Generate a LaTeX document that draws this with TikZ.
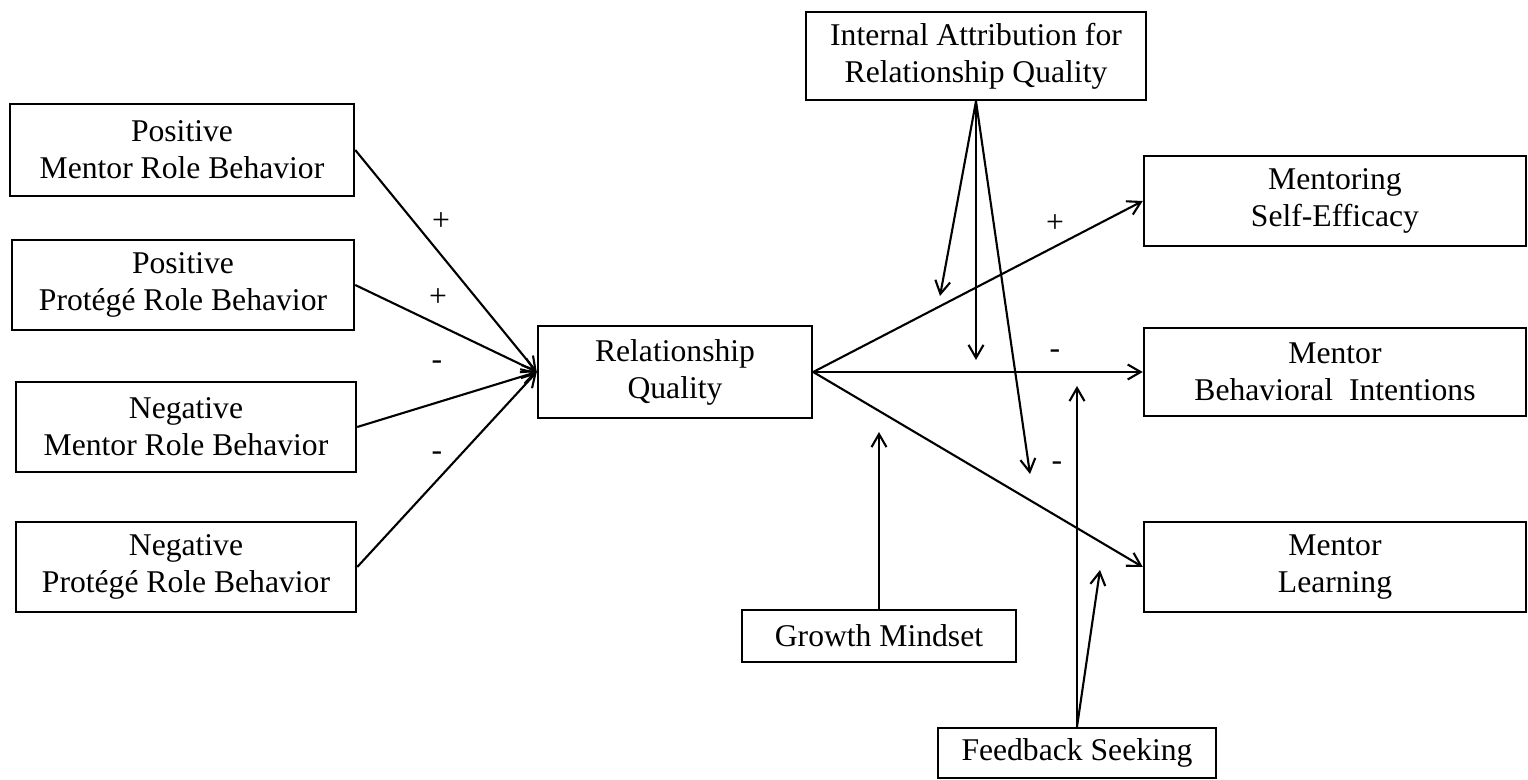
\documentclass[tikz,border=0pt]{standalone}
\usepackage{fontspec}
\setmainfont{Liberation Serif}
\usetikzlibrary{arrows.meta, positioning}

\begin{document}
\begin{tikzpicture}[
    box/.style={rectangle, draw=black, line width=1.4pt, fill=white,
                minimum height=#1, align=center,
                font=\rmfamily\fontsize{18}{21}\selectfont},
    box/.default=1.8cm,
    arr/.style={line width=1.2pt, -{Straight Barb[length=2.6mm, width=3mm]}},
    sign/.style={font=\rmfamily\fontsize{18}{21}\selectfont, inner sep=0pt},
  ]
    \useasboundingbox (0,0) rectangle (30.56,-15.60);

    % antecedents
    \node[box=1.84cm, minimum width=6.88cm] (posMentor) at (3.64,-3.00)
      {Positive\\Mentor Role Behavior};
    \node[box, minimum width=6.84cm] (posProtege) at (3.66,-5.70)
      {Positive\\Protégé Role Behavior};
    \node[box, minimum width=6.80cm] (negMentor) at (3.72,-8.54)
      {Negative\\Mentor Role Behavior};
    \node[box, minimum width=6.80cm] (negProtege) at (3.72,-11.34)
      {Negative\\Protégé Role Behavior};

    % mediator and moderators
    \node[box=1.84cm, minimum width=5.48cm] (relQuality) at (13.50,-7.44)
      {Relationship\\Quality};
    \node[box=1.76cm, minimum width=6.80cm] (intAttr) at (19.52,-1.12)
      {Internal Attribution for\\Relationship Quality};
    \node[box=1.04cm, minimum width=5.48cm] (growth) at (17.58,-12.72)
      {Growth Mindset};
    \node[box=1.00cm, minimum width=5.56cm] (feedback) at (21.54,-15.06)
      {Feedback Seeking};

    % outcomes
    \node[box, minimum width=7.64cm] (selfEff) at (26.70,-4.02)
      {Mentoring\\Self-Efficacy};
    \node[box=1.76cm, minimum width=7.64cm] (intentions) at (26.70,-7.44)
      {Mentor\\Behavioral~ Intentions};
    \node[box, minimum width=7.64cm] (learning) at (26.70,-11.34)
      {Mentor\\Learning};

    % points where the moderating arrows end
    \coordinate (attrA) at (18.80,-5.92);
    \coordinate (attrB) at (19.52,-7.20);
    \coordinate (attrC) at (20.60,-9.48);
    \coordinate (growthA) at (17.58,-8.64);
    \coordinate (fbA) at (21.54,-7.72);
    \coordinate (fbB) at (22.00,-11.40);

    \foreach \src in {posMentor, posProtege, negMentor, negProtege}
      \draw[arr] (\src.east) -- (relQuality.west);
    \foreach \dst in {selfEff, intentions, learning}
      \draw[arr] (relQuality.east) -- (\dst.west);
    \foreach \dst in {attrA, attrB, attrC}
      \draw[arr] (intAttr.south) -- (\dst);
    \draw[arr] (growth.north) -- (growthA);
    \draw[arr] (feedback.north) -- (fbA);
    \draw[arr] (feedback.north) -- (fbB);

    % signs
    \node[sign] (s1) at (8.82,-4.44) {+};
    \node[sign] (s2) at (8.76,-5.96) {+};
    \node[sign] (s3) at (8.74,-7.30) {-};
    \node[sign] (s4) at (8.74,-9.12) {-};
    \node[sign] (s5) at (21.10,-4.48) {+};
    \node[sign] (s6) at (21.10,-7.08) {-};
    \node[sign] (s7) at (21.14,-9.32) {-};
  \end{tikzpicture}
\end{document}
